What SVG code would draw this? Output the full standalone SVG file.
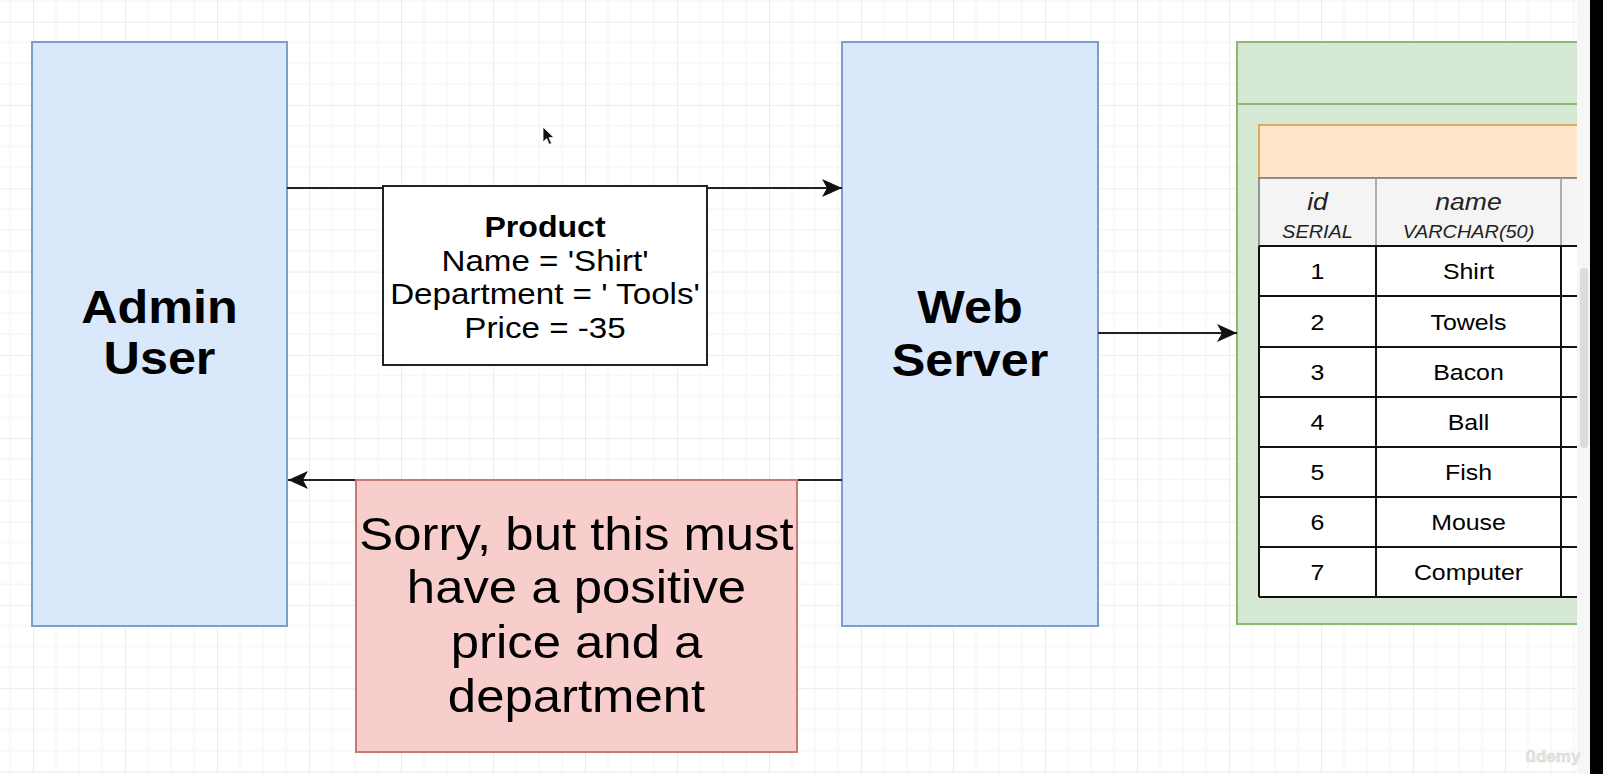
<svg xmlns="http://www.w3.org/2000/svg" width="1603" height="774" viewBox="0 0 1603 774">
<style>
  text { font-family: "Liberation Sans", Arial, sans-serif; fill: #000; text-anchor: middle; }
  .big { font-size: 45.5px; font-weight: bold; }
  .prod { font-size: 30px; }
  .prodb { font-size: 29px; font-weight: bold; }
  .msg { font-size: 46px; }
  .hdr { font-size: 24px; font-style: italic; fill: #222; }
  .typ { font-size: 18px; font-style: italic; fill: #222; }
  .cell { font-size: 22.5px; }
  .blue { fill: #dae8fc; stroke: #7d9dcc; stroke-width: 2; }
  .edge { fill: none; stroke: #222; stroke-width: 2; }
  .tl { stroke: #111; stroke-width: 2; }
</style>
<defs>
  <pattern id="grid" x="33" y="21.7" width="92" height="83.3" patternUnits="userSpaceOnUse">
    <path d="M23,0V83.3M46,0V83.3M69,0V83.3M0,20.8H92M0,41.6H92M0,62.5H92" stroke="#f5f5f5" stroke-width="1.2" fill="none"/>
    <path d="M0.5,0V83.3M0,0.5H92" stroke="#ececec" stroke-width="1.2" fill="none"/>
  </pattern>
  <marker id="arr" markerUnits="userSpaceOnUse" markerWidth="22" markerHeight="20" refX="20" refY="9" orient="auto">
    <path d="M0,0 L20,9 L0,18 L5,9 Z" fill="#111"/>
  </marker>
</defs>
<rect x="0" y="0" width="1603" height="774" fill="#ffffff"/>
<rect x="0" y="0" width="1603" height="774" fill="url(#grid)"/>

<g id="admin-user">
  <rect class="blue" x="32" y="42" width="255" height="584"/>
  <g transform="translate(159.5,0) scale(1.106,1)">
    <text class="big" x="0" y="323">Admin</text>
    <text class="big" x="0" y="374">User</text>
  </g>
</g>

<g id="web-server">
  <rect class="blue" x="842" y="42" width="256" height="584"/>
  <g transform="translate(970,0) scale(1.106,1)">
    <text class="big" x="0" y="323">Web</text>
    <text class="big" x="0" y="376">Server</text>
  </g>
</g>

<g id="database">
  <rect x="1237" y="42" width="380" height="582" fill="#d5e8d4" stroke="#8cb870" stroke-width="2"/>
  <line x1="1237" y1="104" x2="1600" y2="104" stroke="#8cb870" stroke-width="2"/>
  <rect x="1259" y="125" width="360" height="53" fill="#ffe6cc" stroke="#dcae5a" stroke-width="2"/>
  <rect x="1259" y="178" width="360" height="68" fill="#f4f4f4" stroke="#777" stroke-width="1.5"/>
  <line x1="1376" y1="178" x2="1376" y2="246" stroke="#999" stroke-width="1.5"/>
  <line x1="1561" y1="178" x2="1561" y2="246" stroke="#999" stroke-width="1.5"/>
  <rect x="1259" y="246" width="360" height="351" fill="#ffffff"/>
  <g class="tl">
    <line x1="1259" y1="246" x2="1600" y2="246"/>
    <line x1="1259" y1="296" x2="1600" y2="296"/>
    <line x1="1259" y1="347" x2="1600" y2="347"/>
    <line x1="1259" y1="397" x2="1600" y2="397"/>
    <line x1="1259" y1="447" x2="1600" y2="447"/>
    <line x1="1259" y1="497" x2="1600" y2="497"/>
    <line x1="1259" y1="547" x2="1600" y2="547"/>
    <line x1="1259" y1="597" x2="1600" y2="597"/>
    <line x1="1259" y1="246" x2="1259" y2="597"/>
    <line x1="1376" y1="246" x2="1376" y2="597"/>
    <line x1="1561" y1="246" x2="1561" y2="597"/>
  </g>
  <g transform="translate(1317.5,0) scale(1.106,1)">
    <text class="hdr" x="0" y="210">id</text>
    <text class="typ" x="0" y="238">SERIAL</text>
    <text class="cell" x="0" y="279">1</text>
    <text class="cell" x="0" y="330">2</text>
    <text class="cell" x="0" y="380">3</text>
    <text class="cell" x="0" y="430">4</text>
    <text class="cell" x="0" y="480">5</text>
    <text class="cell" x="0" y="530">6</text>
    <text class="cell" x="0" y="580">7</text>
  </g>
  <g transform="translate(1468.5,0) scale(1.106,1)">
    <text class="hdr" x="0" y="210">name</text>
    <text class="typ" x="0" y="238">VARCHAR(50)</text>
    <text class="cell" x="0" y="279">Shirt</text>
    <text class="cell" x="0" y="330">Towels</text>
    <text class="cell" x="0" y="380">Bacon</text>
    <text class="cell" x="0" y="430">Ball</text>
    <text class="cell" x="0" y="480">Fish</text>
    <text class="cell" x="0" y="530">Mouse</text>
    <text class="cell" x="0" y="580">Computer</text>
  </g>
</g>

<g id="connectors">
  <path class="edge" d="M287,188 L842,188" marker-end="url(#arr)"/>
  <path class="edge" d="M842,480 L288,480" marker-end="url(#arr)"/>
  <path class="edge" d="M1098,333 L1237,333" marker-end="url(#arr)"/>
</g>

<g id="product">
  <rect x="383" y="186" width="324" height="179" fill="#ffffff" stroke="#222" stroke-width="2"/>
  <g transform="translate(545,0) scale(1.106,1)">
    <text class="prodb" x="0" y="237">Product</text>
    <text class="prod" x="0" y="271">Name = 'Shirt'</text>
    <text class="prod" x="0" y="304">Department = ' Tools'</text>
    <text class="prod" x="0" y="338">Price = -35</text>
  </g>
</g>

<g id="error-message">
  <rect x="356" y="480" width="441" height="272" fill="#f8cecc" stroke="#c67a75" stroke-width="2"/>
  <g transform="translate(576.5,0) scale(1.106,1)">
    <text class="msg" x="0" y="550">Sorry, but this must</text>
    <text class="msg" x="0" y="603">have a positive</text>
    <text class="msg" x="0" y="658">price and a</text>
    <text class="msg" x="0" y="712">department</text>
  </g>
</g>

<path d="M543,127 L543,142 L546.6,138.6 L549.2,144.4 L551.6,143.3 L549,137.7 L553.8,137.5 Z" fill="#111" stroke="#fff" stroke-width="0.8"/>

<rect x="1577" y="0" width="13" height="774" fill="#f6f6f6"/>
<rect x="1580" y="268" width="8" height="180" rx="4" fill="#dcdcdc"/>
<rect x="1590" y="0" width="13" height="774" fill="#000"/>
<text x="1553" y="762" style="font-size:17px;font-weight:bold;fill:#e6e6e6;stroke:#d6d6d6;stroke-width:0.6">ûdemy</text>
</svg>
